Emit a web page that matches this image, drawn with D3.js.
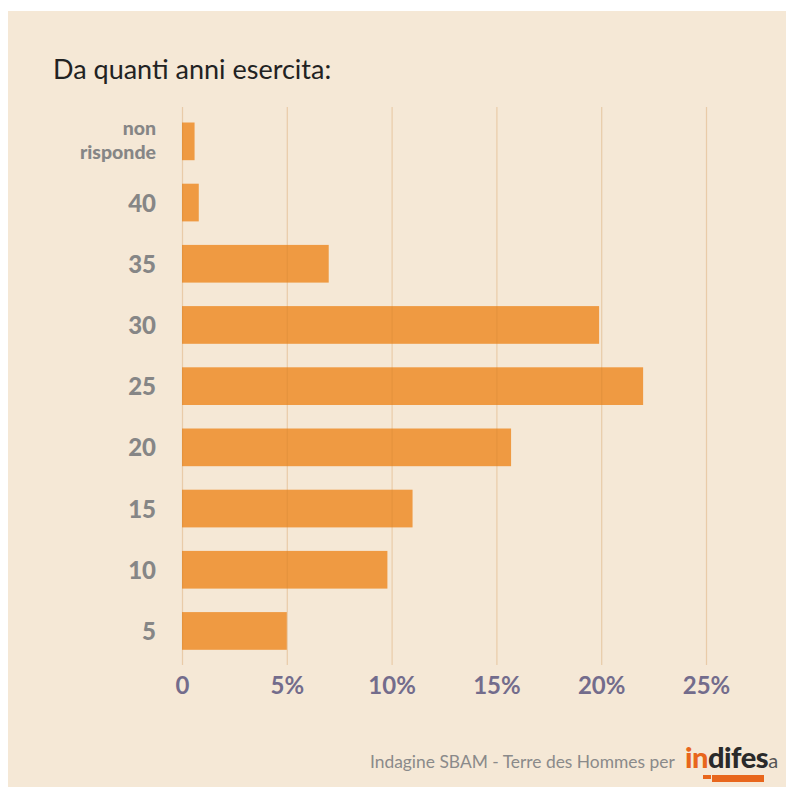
<!DOCTYPE html>
<html><head><meta charset="utf-8">
<script src="https://cdn.jsdelivr.net/npm/d3@7"></script>
<style>
html,body{margin:0;padding:0;background:#fff;}
svg{display:block;}
</style></head>
<body>
<svg id="chart" width="786" height="787"></svg>
<script>
const categories = ["non risponde","40","35","30","25","20","15","10","5"];
const values = [0.6, 0.8, 7.0, 19.9, 22.0, 15.7, 11.0, 9.8, 5.0];
const xTicks = [0, 5, 10, 15, 20, 25];
const xTickLabels = ["0","5%","10%","15%","20%","25%"];
const title = "Da quanti anni esercita:";
const source = "Indagine SBAM - Terre des Hommes per";

const svg = d3.select("#chart");
svg.append("rect").attr("x",8).attr("y",11).attr("width",778).attr("height",776).attr("fill","#f5e8d6");

const x = d3.scaleLinear().domain([0,25]).range([182,706]);
const y = d3.scaleBand().domain(categories).range([110.75,661.55]).paddingInner(0.384).paddingOuter(0.192);

svg.append("text").attr("x",53).attr("y",79).attr("font-family","Lato, sans-serif")
  .attr("font-size",27).attr("fill","#222").text(title);

svg.append("g").selectAll("rect").data(values).join("rect")
  .attr("x",x(0)).attr("y",(d,i)=>y(categories[i]))
  .attr("width",d=>x(d)-x(0)).attr("height",y.bandwidth())
  .attr("fill","#ef9a42");

// gridlines over bars
const xAxis = d3.axisBottom(x).tickValues(xTicks).tickSize(-(665-107)).tickFormat((d,i)=>xTickLabels[i]).tickPadding(14);
const gx = svg.append("g").attr("transform","translate(0,665)").call(xAxis);
gx.select(".domain").remove();
gx.selectAll(".tick line").attr("stroke","rgba(200,130,50,0.28)").attr("stroke-width",1.2);
gx.selectAll(".tick text").attr("font-family","Lato, sans-serif").attr("font-weight","bold")
  .attr("font-size",24).attr("fill","#736c8c").attr("dy","0.71em").attr("y",12);

// y labels
const yl = svg.append("g");
categories.forEach((c)=>{
  const cy = y(c)+y.bandwidth()/2;
  const words = c.split(" ");
  if(words.length>1){
    [[words[0],cy-6],[words[1],cy+17.5]].forEach(([w,yy])=>{
      yl.append("text").attr("text-anchor","end").attr("font-family","Lato, sans-serif")
        .attr("font-weight","900").attr("font-size",19.5).attr("fill","#868686")
        .attr("x",156).attr("y",yy).text(w);
    });
  } else {
    yl.append("text").attr("text-anchor","end").attr("font-family","Lato, sans-serif")
      .attr("font-weight","900").attr("font-size",24).attr("fill","#868686")
      .attr("x",156).attr("y",cy+9).text(c);
  }
});

// footer
svg.append("text").attr("x",370).attr("y",768).attr("font-family","Lato, sans-serif")
  .attr("font-size",17.4).attr("fill","#8a8a8a").text(source);
const logo = svg.append("text").attr("x",685).attr("y",768).attr("font-family","Lato, sans-serif")
  .attr("font-weight","900").attr("font-size",29).attr("letter-spacing",-0.5);
logo.append("tspan").attr("fill","#e8661c").text("in");
logo.append("tspan").attr("fill","#2a2a2a").text("difes");
logo.append("tspan").attr("fill","#555").attr("font-size",20).attr("font-weight","normal").text("a");
svg.append("rect").attr("x",712).attr("y",775).attr("width",52).attr("height",7).attr("fill","#e8661c");
svg.append("rect").attr("x",703).attr("y",775).attr("width",8).attr("height",4).attr("fill","#e8661c");
</script>
</body></html>
